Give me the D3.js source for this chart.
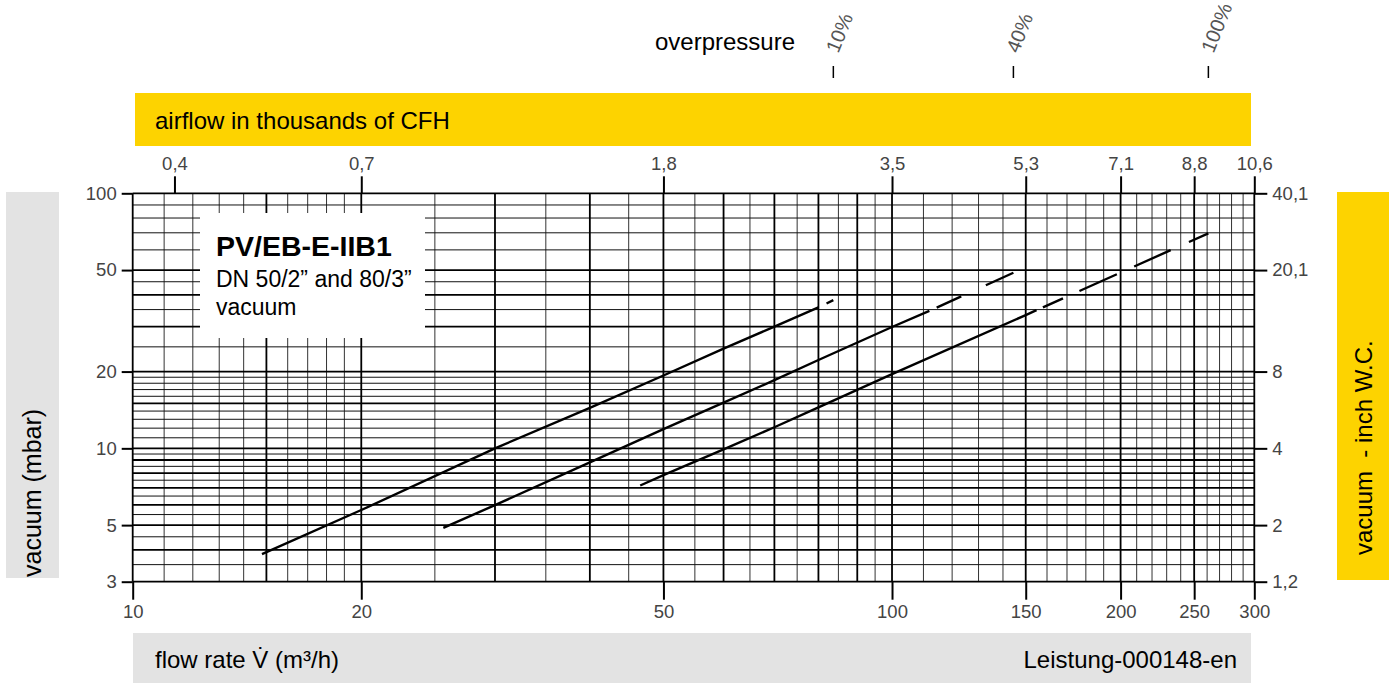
<!DOCTYPE html>
<html>
<head>
<meta charset="utf-8">
<script src="https://cdn.jsdelivr.net/npm/d3@7"></script>
<style>
  body { margin: 0; background: #fff; }
  svg { display: block; font-family: "Liberation Sans", Arial, sans-serif; }
</style>
</head>
<body>
<div id="chart"></div>
<script>
// axis ticks
const flowTicks = [10, 20, 50, 100, 150, 200, 250, 300];
const vacuumTicks = [3, 5, 10, 20, 50, 100];
const inchWcLabels = ["1,2", "2", "4", "8", "20,1", "40,1"];
const cfhTickFlow = [11.35, 20, 50, 100, 150, 200, 250, 300];
const cfhLabels = ["0,4", "0,7", "1,8", "3,5", "5,3", "7,1", "8,8", "10,6"];

// graph paper lines
const gridFlowMajor = [10, 15, 20, 30, 40, 50, 60, 70, 80, 90, 100, 150, 200, 250, 300];
const gridFlowMinor = [11, 12, 13, 14, 16, 17, 18, 19, 25, 35, 45, 55, 65, 75, 85, 95,
  110, 120, 130, 140, 160, 170, 180, 190, 210, 220, 230, 240, 260, 270, 280, 290];
const gridVacMajor = [3, 4, 5, 6, 7, 8, 9, 10, 15, 20, 30, 40, 50, 100];
const gridVacMinor = [3.5, 4.5, 5.5, 6.5, 7.5, 8.5, 9.5, 11, 12, 13, 14, 16, 17, 18, 19,
  25, 35, 45, 60, 70, 80, 90];

// curves: flow (m3/h) vs vacuum (mbar), one per overpressure setting
const overpressure = ["10%", "40%", "100%"];
const flow10 = [14.8, 20, 30, 40, 50, 60, 70, 80, 83.7];
const vac10 = [3.85, 5.73, 10, 14.4, 19.3, 24.6, 30, 35.7, 38.1];
const flow40 = [25.65, 30, 40, 50, 60, 70, 80, 100, 112, 144.5];
const vac40 = [4.88, 5.99, 8.81, 11.9, 15.1, 18.5, 22.2, 29.9, 34.6, 48.8];
const flow100 = [46.6, 50, 60, 70, 80, 100, 150, 155, 261];
const vac100 = [7.15, 7.85, 9.9, 12.1, 14.48, 19.56, 33.3, 34.8, 69.7];
const solidUntil = [80, 112, 155];

const W = 1389, H = 683;
const plot = {left: 132.7, right: 1254.3, top: 193.3, bottom: 581.7};
const yellow = "#fdd300", grey = "#e3e3e3";
const labelSize = "24px", tickSize = "18.5px";
// dash layout of the extrapolated parts
const dashStyles = ["0 9 20 100", "0 8 27 27 40 100", "0 7 22 18 41 19 40 20 30 100"];

const svg = d3.select("#chart").append("svg")
    .attr("width", W)
    .attr("height", H);

const x = d3.scaleLog().domain([10, 300]).range([plot.left, plot.right]);
const y = d3.scaleLog().domain([3, 100]).range([plot.bottom, plot.top]);

// side boxes
svg.append("rect").attr("x", 135).attr("y", 93).attr("width", 1116).attr("height", 53).attr("fill", yellow);
svg.append("rect").attr("x", 1337).attr("y", 192).attr("width", 52).attr("height", 388).attr("fill", yellow);
svg.append("rect").attr("x", 6).attr("y", 192).attr("width", 53).attr("height", 386).attr("fill", grey);
svg.append("rect").attr("x", 133).attr("y", 633).attr("width", 1118).attr("height", 50).attr("fill", grey);

svg.append("text").attr("x", 155).attr("y", 129).style("font-size", labelSize).text("airflow in thousands of CFH");
svg.append("text").attr("x", 795).attr("y", 50).attr("text-anchor", "end").style("font-size", labelSize).text("overpressure");
svg.append("text").attr("x", 155).attr("y", 668).style("font-size", labelSize).text("flow rate V\u0307 (m\u00b3/h)");
svg.append("text").attr("x", 1237).attr("y", 668).attr("text-anchor", "end").style("font-size", labelSize).text("Leistung-000148-en");
svg.append("text").attr("transform", "translate(41,577) rotate(-90)").style("font-size", "25px").text("vacuum (mbar)");
svg.append("text").attr("transform", "translate(1372,555) rotate(-90)").style("font-size", labelSize)
    .style("white-space", "pre").text("vacuum  - inch W.C.");

// grid
const grid = svg.append("g").attr("class", "grid");
grid.selectAll(".vMinor").data(gridFlowMinor).join("line")
    .attr("x1", d => x(d)).attr("x2", d => x(d))
    .attr("y1", plot.top).attr("y2", plot.bottom)
    .attr("stroke", "#333").attr("stroke-width", 1);
grid.selectAll(".hMinor").data(gridVacMinor).join("line")
    .attr("x1", plot.left).attr("x2", plot.right)
    .attr("y1", d => y(d)).attr("y2", d => y(d))
    .attr("stroke", "#111").attr("stroke-width", 1);
grid.selectAll(".vMajor").data(gridFlowMajor).join("line")
    .attr("x1", d => x(d)).attr("x2", d => x(d))
    .attr("y1", plot.top).attr("y2", plot.bottom)
    .attr("stroke", "#000").attr("stroke-width", 1.8);
grid.selectAll(".hMajor").data(gridVacMajor).join("line")
    .attr("x1", plot.left).attr("x2", plot.right)
    .attr("y1", d => y(d)).attr("y2", d => y(d))
    .attr("stroke", "#000").attr("stroke-width", 1.8);

// title box
svg.append("rect").attr("x", 200).attr("y", 213).attr("width", 225).attr("height", 125).attr("fill", "#fff");
svg.append("text").attr("x", 216).attr("y", 256).style("font-size", "28.5px").style("font-weight", "bold").text("PV/EB-E-IIB1");
svg.append("text").attr("x", 216).attr("y", 287).style("font-size", "23px").text("DN 50/2\u201d and 80/3\u201d");
svg.append("text").attr("x", 216).attr("y", 315).style("font-size", "23px").text("vacuum");

// axes
function styleAxis(g) {
    g.select(".domain").remove();
    g.selectAll(".tick line").attr("stroke", "#000").attr("stroke-width", 2);
    g.selectAll(".tick text").attr("fill", "#444").style("font-size", tickSize)
        .style("font-family", "Liberation Sans, Arial, sans-serif");
}
svg.append("g").attr("transform", `translate(${plot.left},0)`)
    .call(d3.axisLeft(y).tickValues(vacuumTicks).tickFormat(d3.format("d")).tickSize(11).tickPadding(5))
    .call(styleAxis);
svg.append("g").attr("transform", `translate(${plot.right},0)`)
    .call(d3.axisRight(y).tickValues(vacuumTicks).tickFormat((d, i) => inchWcLabels[i]).tickSize(13).tickPadding(5))
    .call(styleAxis);
svg.append("g").attr("transform", `translate(0,${plot.bottom})`)
    .call(d3.axisBottom(x).tickValues(flowTicks).tickFormat(d3.format("d")).tickSize(18).tickPadding(5))
    .call(styleAxis);
svg.append("g").attr("transform", `translate(0,${plot.top})`)
    .call(d3.axisTop(x).tickValues(cfhTickFlow).tickFormat((d, i) => cfhLabels[i]).tickSize(17).tickPadding(6))
    .call(styleAxis);

// curves
const curves = [
    {flow: flow10, vac: vac10},
    {flow: flow40, vac: vac40},
    {flow: flow100, vac: vac100}
];
const line = d3.line().x(d => x(d[0])).y(d => y(d[1]));
curves.forEach((c, i) => {
    const pts = c.flow.map((f, k) => [f, c.vac[k]]);
    const solid = pts.filter(p => p[0] <= solidUntil[i]);
    const dashed = pts.filter(p => p[0] >= solidUntil[i]);
    svg.append("path").attr("d", line(solid))
        .attr("fill", "none").attr("stroke", "#000").attr("stroke-width", 2.4);
    svg.append("path").attr("d", line(dashed))
        .attr("fill", "none").attr("stroke", "#000").attr("stroke-width", 2.4)
        .attr("stroke-dasharray", dashStyles[i]);

    // overpressure marker above the chart at the curve end
    const endX = x(c.flow[c.flow.length - 1]);
    svg.append("line").attr("x1", endX).attr("x2", endX).attr("y1", 66).attr("y2", 78)
        .attr("stroke", "#000").attr("stroke-width", 1.5);
    svg.append("text").attr("transform", `translate(${endX + 5},54) rotate(-68)`)
        .attr("fill", "#555").style("font-size", "20px").text(overpressure[i]);
});
</script>
</body>
</html>
